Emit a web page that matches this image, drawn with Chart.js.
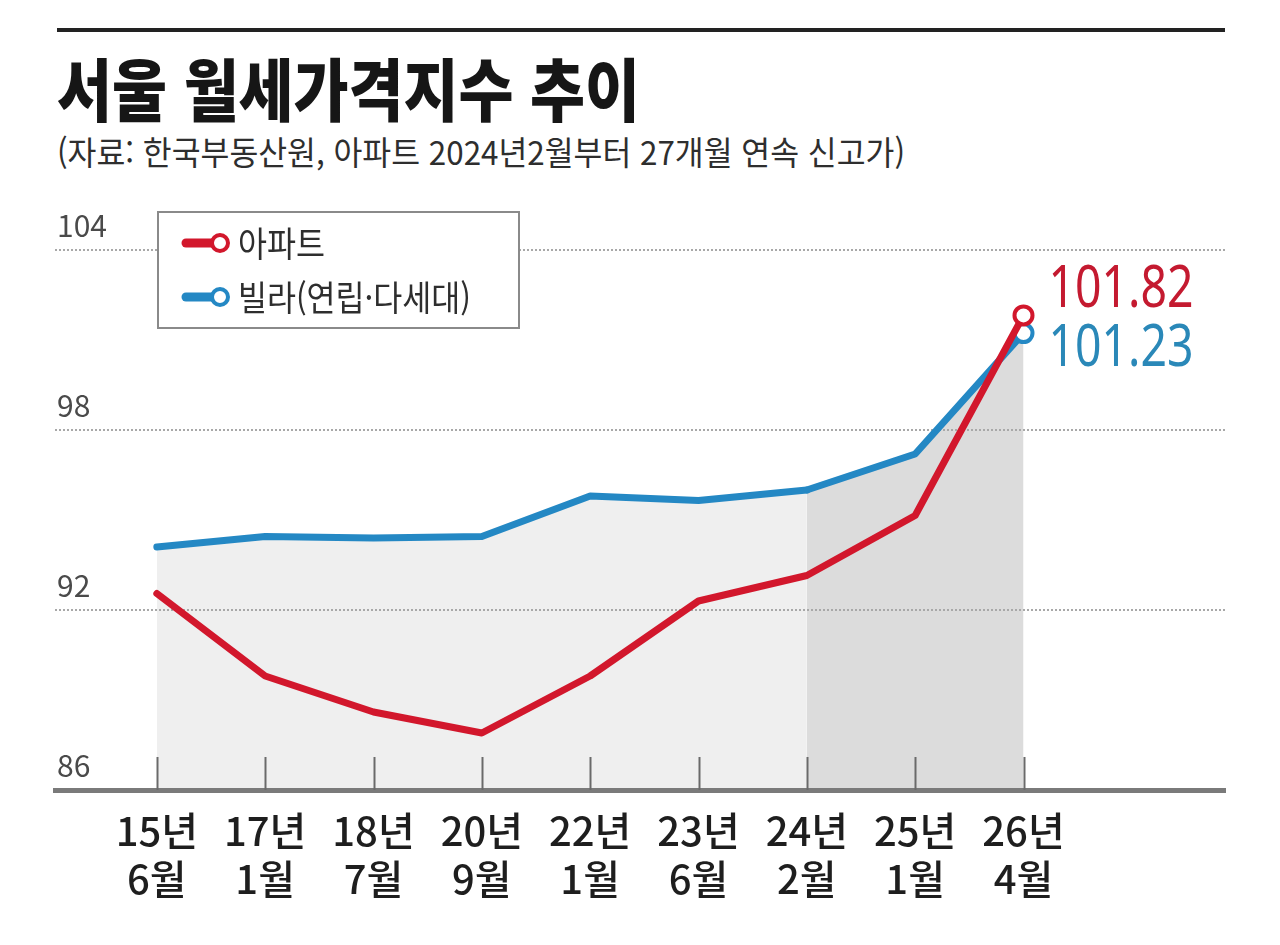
<!DOCTYPE html>
<html lang="ko">
<head>
<meta charset="utf-8">
<script src="https://cdn.jsdelivr.net/npm/chart.js@4/dist/chart.umd.min.js"></script>
<style>
  html, body { margin: 0; padding: 0; background: #fff; }
  body { width: 1280px; height: 945px; position: relative; overflow: hidden; font-family: "Noto Sans CJK KR", sans-serif; }
  #rule { position: absolute; left: 57px; top: 28px; width: 1168px; height: 4px; background: #222; }
  .fit { position: absolute; left: 57px; white-space: nowrap; line-height: 1; transform-origin: 0 0; }
  #title { top: 53px; font-size: 68px; font-weight: 900; color: #161616; }
  #subtitle { top: 135px; font-size: 33px; font-weight: 400; color: #2e2e2e; }
  #wrap { position: absolute; left: 0; top: 0; width: 1280px; height: 945px; }
</style>
</head>
<body>
<div id="rule"></div>
<div id="title" class="fit" data-w="583">서울 월세가격지수 추이</div>
<div id="subtitle" class="fit" data-w="848">(자료: 한국부동산원, 아파트 2024년2월부터 27개월 연속 신고가)</div>
<div id="wrap"><canvas id="c" width="1280" height="945"></canvas></div>
<script>
// ---- data ----
const xYears  = ['15년', '17년', '18년', '20년', '22년', '23년', '24년', '25년', '26년'];
const xMonths = ['6월', '1월', '7월', '9월', '1월', '6월', '2월', '1월', '4월'];
const aptValues   = [92.55, 89.8, 88.6, 87.9, 89.8, 92.3, 93.15, 95.15, 101.82];
const villaValues = [94.1, 94.45, 94.4, 94.45, 95.8, 95.65, 96.0, 97.2, 101.23];
const yTickValues = [86, 92, 98, 104];
const seriesNames = ['아파트', '빌라(연립·다세대)'];
const highlightFrom = 6; // 24년 2월부터 진한 음영

// ---- fit HTML texts ----
document.querySelectorAll('.fit').forEach(el => {
  const w = el.getBoundingClientRect().width;
  el.style.transform = 'scaleX(' + (parseFloat(el.dataset.w) / w) + ')';
});

const RED = '#d2172c', BLUE = '#2488c4';
const RED_TXT = '#c41a30', BLUE_TXT = '#2a88b8';
const LIGHT = '#efefef', DARK = '#dcdcdc';

function condensedText(ctx, text, x, y, font, sx, color) {
  ctx.save();
  ctx.font = font;
  ctx.fillStyle = color;
  ctx.textBaseline = 'middle';
  ctx.textAlign = 'left';
  ctx.translate(x, y);
  ctx.scale(sx, 1);
  ctx.fillText(text, 0, 0);
  ctx.restore();
}

const decor = {
  id: 'decor',
  afterDatasetsDraw(chart) {
    const ctx = chart.ctx;
    const xs = chart.scales.x, area = chart.chartArea;
    ctx.save();
    ctx.strokeStyle = '#6a6a6a';
    ctx.lineWidth = 2;
    xYears.forEach((_, i) => {
      const px = Math.round(xs.getPixelForValue(i)) + 0.5;
      ctx.beginPath();
      ctx.moveTo(px, area.bottom - 33);
      ctx.lineTo(px, area.bottom);
      ctx.stroke();
    });
    ctx.restore();
  },
  afterDraw(chart) {
    const ctx = chart.ctx;
    // end value labels
    const offs = [-25, 16];
    const cols = [RED_TXT, BLUE_TXT];
    chart.data.datasets.forEach((ds, di) => {
      const meta = chart.getDatasetMeta(di);
      const last = meta.data[meta.data.length - 1];
      const pt = ds.data[ds.data.length - 1];
      condensedText(ctx, pt.y.toFixed(2), last.x + 25, last.y + offs[di], '400 58px "Noto Sans", "Noto Sans CJK KR", sans-serif', 0.8, cols[di]);
    });
    // legend box
    ctx.save();
    ctx.fillStyle = '#fff';
    ctx.strokeStyle = '#8a8a8a';
    ctx.lineWidth = 2;
    ctx.fillRect(158, 212, 361, 116);
    ctx.strokeRect(158, 212, 361, 116);
    ctx.restore();
    const rows = [243, 297];
    chart.data.datasets.forEach((ds, di) => {
      const y = rows[di];
      ctx.save();
      ctx.strokeStyle = ds.borderColor;
      ctx.lineWidth = 9;
      ctx.lineCap = 'round';
      ctx.beginPath();
      ctx.moveTo(186, y);
      ctx.lineTo(212, y);
      ctx.stroke();
      ctx.beginPath();
      ctx.arc(220, y, 8, 0, Math.PI * 2);
      ctx.fillStyle = '#fff';
      ctx.fill();
      ctx.lineWidth = 4;
      ctx.stroke();
      ctx.restore();
      condensedText(ctx, ds.label, 238, y + 1, '400 35px "Noto Sans CJK KR", sans-serif', 0.9, '#2e2e2e');
    });
  }
};

const lastIdx = aptValues.length - 1;
const pointR = c => (c.dataIndex === lastIdx ? 9 : 0);

new Chart(document.getElementById('c'), {
  type: 'line',
  data: {
    datasets: [
      {
        label: seriesNames[0],
        data: aptValues.map((v, i) => ({ x: i, y: v })),
        borderColor: RED,
        borderWidth: 7,
        borderJoinStyle: 'round',
        borderCapStyle: 'round',
        tension: 0,
        fill: false,
        pointRadius: pointR,
        pointHoverRadius: pointR,
        pointBorderWidth: 4,
        pointBackgroundColor: '#fff',
        pointBorderColor: RED
      },
      {
        label: seriesNames[1],
        data: villaValues.map((v, i) => ({ x: i, y: v })),
        borderColor: BLUE,
        borderWidth: 7,
        borderJoinStyle: 'round',
        borderCapStyle: 'round',
        tension: 0,
        fill: 'start',
        backgroundColor: LIGHT,
        segment: {
          backgroundColor: c => (c.p0DataIndex >= highlightFrom ? DARK : LIGHT)
        },
        pointRadius: pointR,
        pointHoverRadius: pointR,
        pointBorderWidth: 4,
        pointBackgroundColor: '#fff',
        pointBorderColor: BLUE
      }
    ]
  },
  options: {
    responsive: false,
    animation: false,
    events: [],
    layout: { padding: { left: 55, right: 55, top: 250, bottom: 0 } },
    plugins: {
      legend: { display: false },
      tooltip: { enabled: false },
      filler: { drawTime: 'beforeDraw' }
    },
    scales: {
      x: {
        type: 'linear',
        min: -0.94,
        max: 9.86,
        afterBuildTicks: s => { s.ticks = xYears.map((_, i) => ({ value: i })); },
        afterFit: s => { s.height = 155; },
        grid: { display: false, drawTicks: false, tickLength: 0 },
        border: { display: true, color: '#7a7a7a', width: 5 },
        ticks: {
          padding: 17,
          color: '#1e1e1e',
          autoSkip: false,
          maxRotation: 0,
          font: { family: '"Noto Sans CJK KR", sans-serif', size: 40, weight: '500', lineHeight: 1.2 },
          callback: v => [xYears[v], xMonths[v]]
        }
      },
      y: {
        min: 86,
        max: 104,
        afterBuildTicks: s => { s.ticks = yTickValues.map(v => ({ value: v })); },
        afterFit: s => { s.width = 0; },
        grid: {
          drawTicks: false,
          tickLength: 0,
          lineWidth: 2,
          color: c => (c.tick && c.tick.value === 86 ? 'rgba(0,0,0,0)' : '#a8a8a8')
        },
        border: { display: false, dash: [2, 2] },
        ticks: {
          mirror: true,
          padding: 2,
          labelOffset: -24,
          color: '#4a4a4a',
          font: { family: '"Noto Sans CJK KR", sans-serif', size: 30 },
          callback: v => String(v)
        }
      }
    }
  },
  plugins: [decor]
});
</script>
</body>
</html>
